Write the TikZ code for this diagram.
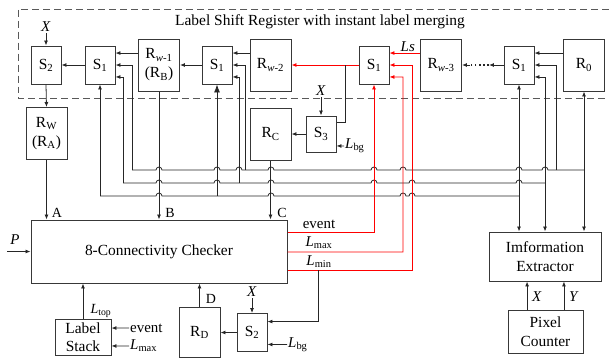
\documentclass[tikz,border=0pt]{standalone}
\usepackage{fontspec}
\setmainfont{Liberation Serif}
\usetikzlibrary{arrows.meta,positioning,calc}

\begin{document}
\begin{tikzpicture}[x=1bp,y=-1bp,
  box/.style={draw=black!78, line width=1pt, fill=white, align=center, inner sep=1pt, font=\fontsize{15.5}{19}\selectfont},
  reg/.style={box, minimum width=41bp, minimum height=52bp},
  sel/.style={box, minimum width=30bp, minimum height=38bp},
  wire/.style={black!85, line width=0.8pt},
  arr/.style={wire, -{Latex[length=5pt,width=4pt]}},
  darr/.style={wire, {Latex[length=5pt,width=4pt]}-{Latex[length=5pt,width=4pt]}},
  rarr/.style={arr, red},
  lbl/.style={inner sep=1pt, text=black, font=\fontsize{15}{16}\selectfont},
  tag/.style={inner sep=1pt, font=\fontsize{14}{15}\selectfont}]
  \useasboundingbox (0,0) rectangle (609,358);
  % shift register frame
  \draw[black!65, line width=1pt, dash pattern=on 7pt off 4pt] (609,9) -- (18,9) -- (18,98) -- (609,98);
  \node[lbl, font=\fontsize{15.5}{16}\selectfont] (ttl) at (320,22) {Label Shift Register with instant label merging};
  % register row
  \node[sel] (S2t) at (46,65) {S\textsubscript{2}};
  \node[sel] (S1a) at (100,65) {S\textsubscript{1}};
  \node[reg] (Rw1) at (159,65) {R\textsubscript{\textit{w}-1}\\(R\textsubscript{B})};
  \node[sel] (S1b) at (217,65) {S\textsubscript{1}};
  \node[reg] (Rw2) at (270.5,65) {R\textsubscript{\textit{w}-2}};
  \node[sel] (S1c) at (374,65) {S\textsubscript{1}};
  \node[reg] (Rw3) at (441,65) {R\textsubscript{\textit{w}-3}};
  \node[sel] (S1d) at (519,65) {S\textsubscript{1}};
  \node[reg] (R0) at (584,65) {R\textsubscript{0}};
  % middle blocks
  \node[reg] (Rw) at (46.5,133.5) {R\textsubscript{W}\\(R\textsubscript{A})};
  \node[reg] (Rc) at (270.5,134) {R\textsubscript{C}};
  \node[sel, minimum height=36bp] (S3) at (321,134) {S\textsubscript{3}};
  \node[box, minimum width=256bp, minimum height=63bp] (chk) at (159,251.5) {8-Connectivity Checker};
  \node[box, minimum width=112bp, minimum height=49bp] (ie) at (545,256.5) {Imformation\\Extractor};
  % bottom blocks
  \node[box, minimum width=56bp, minimum height=36bp, font=\fontsize{15.5}{18}\selectfont] (stack) at (83,337) {Label\\Stack};
  \node[reg, minimum height=50bp] (RD) at (199.5,332.5) {R\textsubscript{D}};
  \node[sel] (S2b) at (252,332.5) {S\textsubscript{2}};
  \node[box, minimum width=75bp, minimum height=43bp] (pc) at (545.5,331.5) {Pixel\\Counter};
  % free labels
  \node[lbl] (X1) at (46,27) {\textit{X}};
  \node[lbl] (X3) at (321,91) {\textit{X}};
  \node[lbl] (X2) at (252,292) {\textit{X}};
  \node[lbl] (P) at (15,240) {\textit{P}};
  \coordinate (pin) at (7,251.5);
  \node[lbl, anchor=west] (Lbg3) at (344,146) {\textit{L}\textsubscript{bg}};
  \node[lbl, anchor=west] (Lbg2) at (287,344.5) {\textit{L}\textsubscript{bg}};
  \node[lbl, anchor=west] (ev) at (129,328) {event};
  \node[lbl, anchor=west] (lmx) at (129,346) {\textit{L}\textsubscript{max}};
  \node[lbl] (evo) at (319,224) {event};
  \node[lbl] (lmxo) at (319,243) {\textit{L}\textsubscript{max}};
  \node[lbl] (lmno) at (319,262) {\textit{L}\textsubscript{min}};
  \node[tag] (ltop) at (101,311) {\textit{L}\textsubscript{top}};
  \node[tag] (la) at (57,213) {A};
  \node[tag] (lb) at (170,213) {B};
  \node[tag] (lc) at (282,213) {C};
  \node[tag] (ld) at (211,299) {D};
  \node[lbl] (lx) at (537,297) {\textit{X}};
  \node[lbl] (ly) at (574,297) {\textit{Y}};
  % buses with hops
  \draw[wire] (132,170) foreach \h in {159,217,239,271,374,403,519,545} { -- (\h-3,170) arc[start angle=180,end angle=360,radius=3] } -- (584,170);
  \draw[wire] (123,183) foreach \h in {159,217,271,374,412,519} { -- (\h-3,183) arc[start angle=180,end angle=360,radius=3] } -- (545,183);
  \draw[wire] (100,196) foreach \h in {159,271,403,412} { -- (\h-3,196) arc[start angle=180,end angle=360,radius=3] } -- (519,196);
  % shift path
  \draw[arr] (X1) -- (S2t.north);
  \draw[arr] (S1a.west) -- (S2t.east);
  \draw[arr] ([yshift=12pt]Rw1.west) -- ([yshift=12pt]S1a.east);
  \draw[arr] (S1b.west) -- (Rw1.east);
  \draw[arr] ([yshift=12pt]Rw2.west) -- ([yshift=12pt]S1b.east);
  \draw[rarr] (S1c.west) -- (Rw2.east);
  \draw[rarr] ([yshift=12pt]Rw3.west) -- node[lbl, above, xshift=3bp]{\textit{Ls}} ([yshift=12pt]S1c.east);
  \coordinate (dd1) at (489,65);
  \coordinate (dd2) at (470,65);
  \draw[arr] (S1d.west) -- (dd1);
  \draw[wire, line width=1.6pt, dash pattern=on 1.6pt off 2.6pt] (dd1) -- (dd2);
  \draw[arr] (dd2) -- (Rw3.east);
  \draw[arr] ([yshift=12pt]R0.west) -- ([yshift=12pt]S1d.east);
  % feedback into the selectors
  \draw[arr] (132,170) |- (S1a.east);
  \draw[arr] (123,183) |- ([yshift=-12pt]S1a.east);
  \draw[arr] (100,196) -- (S1a.south);
  \draw[arr] (245,170) |- (S1b.east);
  \draw[arr] (239,183) |- ([yshift=-12pt]S1b.east);
  \draw[wire, -{Latex[length=8pt,width=6pt]}] (217,196) -- (S1b.south);
  \draw[arr] (556,170) |- (S1d.east);
  \draw[darr] (ie.north -| 545,0) |- ([yshift=-12pt]S1d.east);
  \draw[darr] (ie.north -| S1d) -- (S1d.south);
  \draw[darr] (ie.north -| R0) -- (R0.south);
  % registers to checker
  \draw[arr] (S2t.south) -- (Rw.north);
  \draw[arr] (Rw.south) -- (chk.north -| Rw);
  \draw[arr] (Rw1.south) -- (chk.north -| Rw1);
  \draw[arr] (Rc.south) -- (chk.north -| Rc);
  \draw[arr] (S3.west) -- (Rc.east);
  \draw[arr] (X3) -- (S3.north);
  \draw[arr] (Lbg3.west) -- ([yshift=-12pt]S3.east);
  \draw[wire] (345,65) |- ([yshift=12pt]S3.east);
  \draw[arr] (pin) -- (chk.west);
  % checker outputs
  \draw[rarr] (chk.east |- 0,232) -| (S1c.south);
  \draw[rarr] (chk.east |- 0,252) -| (403,77) -- ([yshift=-12pt]S1c.east);
  \draw[rarr] (chk.east |- 0,270) -| (412,65) -- (S1c.east);
  \draw[arr] (318,270) |- ([yshift=11pt]S2b.east);
  % bottom row
  \draw[arr] (stack.north) -- (chk.south -| stack);
  \draw[arr] (ev.west) -- ([yshift=9pt]stack.east);
  \draw[arr] (lmx.west) -- ([yshift=-9pt]stack.east);
  \draw[arr] (RD.north) -- (chk.south -| RD);
  \draw[arr] (S2b.west) -- (RD.east |- S2b.west);
  \draw[arr] (X2) -- (S2b.north);
  \draw[arr] (Lbg2.west) -- ([yshift=-12pt]S2b.east);
  \coordinate (pcx) at ([xshift=-18.5pt]pc.north);
  \coordinate (pcy) at ([xshift=18.5pt]pc.north);
  \draw[arr] (pcx) -- (ie.south -| pcx);
  \draw[arr] (pcy) -- (ie.south -| pcy);
\end{tikzpicture}
\end{document}
